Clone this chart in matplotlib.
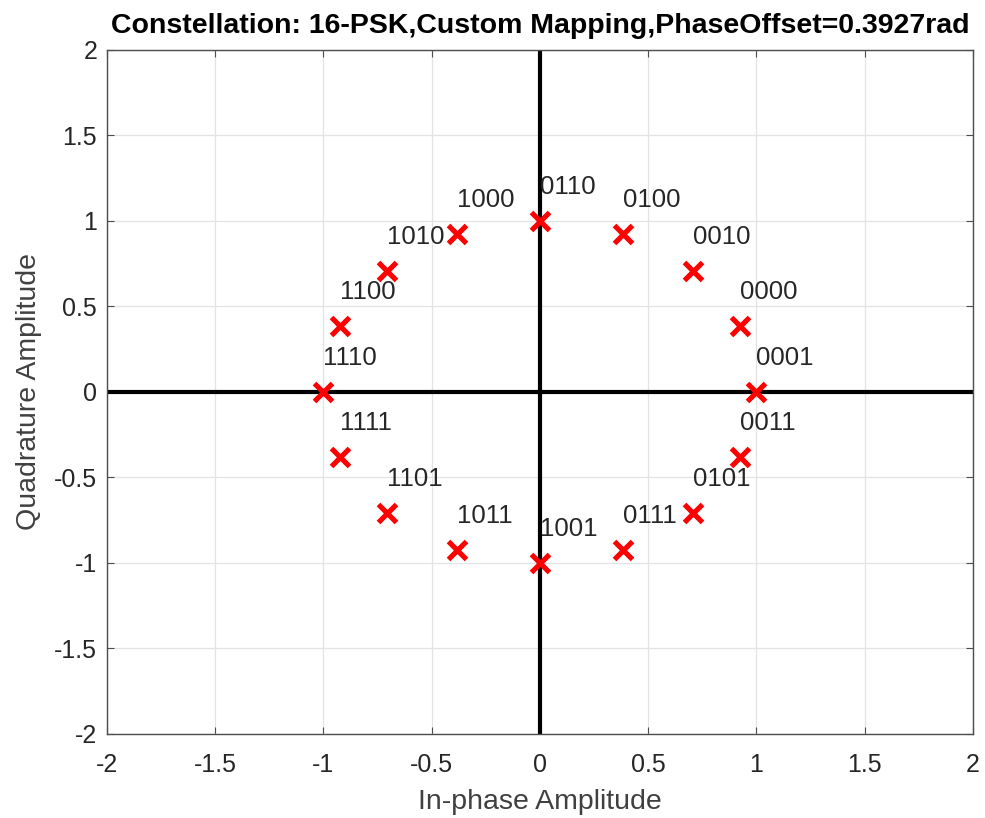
import numpy as np
import matplotlib.pyplot as plt

# constellation points and their bit labels
i_vals = [0.924, 1.0, 0.924, 0.707, 0.383, 0.0, -0.383, -0.707,
          -0.924, -1.0, -0.924, -0.707, -0.383, 0.0, 0.383, 0.707]
q_vals = [0.383, 0.0, -0.383, -0.707, -0.924, -1.0, -0.924, -0.707,
          -0.383, 0.0, 0.383, 0.707, 0.924, 1.0, 0.924, 0.707]
bit_labels = ['0000', '0001', '0011', '0101', '0111', '1001', '1011', '1101',
              '1111', '1110', '1100', '1010', '1000', '0110', '0100', '0010']
ticks = [-2, -1.5, -1, -0.5, 0, 0.5, 1, 1.5, 2]

plt.rcParams['font.family'] = ['Liberation Sans', 'DejaVu Sans']

fig = plt.figure(figsize=(9.85, 8.18), dpi=100)
ax = fig.add_axes([0.1086, 0.1027, 0.8792, 0.8362])

ax.set_xlim(-2, 2)
ax.set_ylim(-2, 2)
ax.set_xticks(ticks)
ax.set_yticks(ticks)
ax.set_xticklabels(['%g' % t for t in ticks])
ax.set_yticklabels(['%g' % t for t in ticks])
ax.tick_params(direction='in', length=5, width=0.8, colors='#4d4d4d',
               labelcolor='#262626', labelsize=18, top=True, right=True,
               labeltop=False, labelright=False)
ax.tick_params(axis='x', pad=14)
ax.tick_params(axis='y', pad=7)
ax.grid(True, color='#e3e3e3', linewidth=0.9)
ax.set_axisbelow(True)
for s in ax.spines.values():
    s.set_color('#4d4d4d')
    s.set_linewidth(1.0)

# axes through the origin
ax.axhline(0, color='black', linewidth=3, zorder=2)
ax.axvline(0, color='black', linewidth=3, zorder=2)

ax.plot(i_vals, q_vals, linestyle='none', marker='x', color='red',
        markersize=12.5, markeredgewidth=3.7, zorder=3)

for x, y, lab in zip(i_vals, q_vals, bit_labels):
    ax.text(x, y + 0.2, lab, ha='left', va='center', fontsize=18.5,
            color='#262626', zorder=4)

ax.set_title('Constellation: 16-PSK,Custom Mapping,PhaseOffset=0.3927rad',
             fontsize=20.5, fontweight='bold', pad=12.5)
ax.set_xlabel('In-phase Amplitude', fontsize=20.5, color='#404040', labelpad=8)
ax.set_ylabel('Quadrature Amplitude', fontsize=20.5, color='#404040', labelpad=9)

fig.savefig('out.png', dpi=100)
